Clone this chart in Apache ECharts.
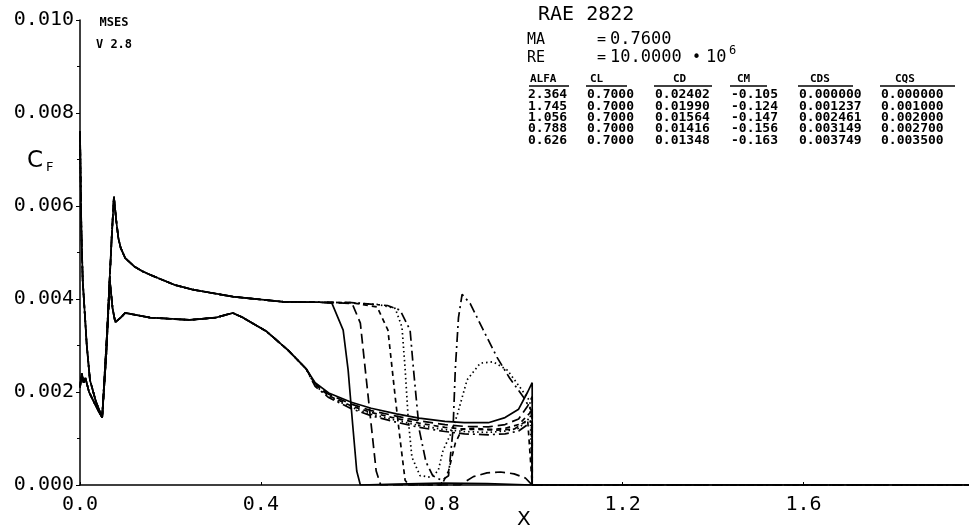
<!DOCTYPE html>
<html>
<head>
<meta charset="utf-8">
<script src="https://cdn.jsdelivr.net/npm/echarts@6/dist/echarts.min.js"></script>
<style>html,body{margin:0;padding:0;background:#fff}#c{width:969px;height:528px}</style>
</head>
<body>
<div id="c"></div>
<script>
// ---------- data ----------
const xTicks = [0.0, 0.4, 0.8, 1.2, 1.6];
const yTicks = [0.000, 0.002, 0.004, 0.006, 0.008, 0.010];

// upper surface, common forward part
const xUpperFore  = [0.000, 0.003, 0.006, 0.015, 0.022, 0.035, 0.049, 0.060, 0.070, 0.075, 0.080, 0.085, 0.090, 0.100, 0.120, 0.137, 0.155, 0.210, 0.250, 0.338, 0.450, 0.530];
const cfUpperFore = [0.0076, 0.0055, 0.0044, 0.0030, 0.00226, 0.0018, 0.00145, 0.0033, 0.0053, 0.0062, 0.0057, 0.0053, 0.0051, 0.00488, 0.0047, 0.0046, 0.00452, 0.0043, 0.0042, 0.00405, 0.00394, 0.00393];

// upper surface, aft part per case
const xUpperA  = [0.557, 0.582, 0.593, 0.603, 0.612, 0.620, 0.700, 0.800, 0.900, 1.000];
const cfUpperA = [0.00391, 0.00333, 0.00247, 0.0013, 0.0003, 0.0, 0.00002, 0.00004, 0.00003, 0.0];
const xUpperB  = [0.570, 0.602, 0.620, 0.631, 0.645, 0.655, 0.665, 0.840, 0.870, 0.900, 0.930, 0.960, 0.985, 1.000];
const cfUpperB = [0.00392, 0.00390, 0.00348, 0.00247, 0.0012, 0.0003, 0.0, 0.0, 0.00018, 0.00026, 0.00028, 0.00024, 0.00015, 0.0];
const xUpperC  = [0.600, 0.657, 0.681, 0.697, 0.708, 0.719, 0.727, 0.800, 0.815, 0.830, 0.845, 0.870, 0.920, 0.960, 0.990, 1.000];
const cfUpperC = [0.00392, 0.00383, 0.00333, 0.0019, 0.00097, 0.0001, 0.0, 0.0, 0.0003, 0.0009, 0.0012, 0.00122, 0.00118, 0.0012, 0.0014, 0.0];
const xUpperD  = [0.600, 0.660, 0.697, 0.712, 0.719, 0.726, 0.734, 0.752, 0.774, 0.792, 0.803, 0.820, 0.834, 0.856, 0.885, 0.914, 0.945, 0.973, 0.995, 1.000];
const cfUpperD = [0.00392, 0.00388, 0.0038, 0.0034, 0.0025, 0.0014, 0.0006, 0.0002, 0.00017, 0.0003, 0.00075, 0.0011, 0.0015, 0.00226, 0.00262, 0.00265, 0.00247, 0.0021, 0.0018, 0.0];
const xUpperE  = [0.600, 0.680, 0.708, 0.730, 0.737, 0.750, 0.765, 0.780, 0.800, 0.815, 0.825, 0.830, 0.837, 0.845, 0.863, 0.892, 0.922, 0.950, 0.980, 0.998, 1.000];
const cfUpperE = [0.00392, 0.00386, 0.00376, 0.00333, 0.00254, 0.0012, 0.0005, 0.0002, 0.0001, 0.0002, 0.0012, 0.0025, 0.0036, 0.0041, 0.0039, 0.00333, 0.00275, 0.0023, 0.0019, 0.0016, 0.0];

// lower surface, common forward part
const xLowerFore  = [0.000, 0.004, 0.008, 0.012, 0.020, 0.035, 0.049, 0.058, 0.066, 0.072, 0.078, 0.090, 0.100, 0.155, 0.243, 0.300, 0.338, 0.360, 0.413, 0.460, 0.500];
const cfLowerFore = [0.0021, 0.0024, 0.0022, 0.0023, 0.0020, 0.0017, 0.00145, 0.0028, 0.0044, 0.0038, 0.0035, 0.0036, 0.0037, 0.0036, 0.00355, 0.0036, 0.0037, 0.0036, 0.0033, 0.0029, 0.0025];

// lower surface, aft part per case
const xLowerAft = [0.520, 0.550, 0.600, 0.644, 0.700, 0.750, 0.807, 0.850, 0.903, 0.940, 0.970, 0.990, 1.000, 1.000];
const cfLowerA = [0.0022, 0.00198, 0.00178, 0.00165, 0.00153, 0.00144, 0.00137, 0.00134, 0.00134, 0.00145, 0.00163, 0.0020, 0.0022, 0.0];
const cfLowerB = [0.00218, 0.00195, 0.00174, 0.0016, 0.00148, 0.00138, 0.0013, 0.00126, 0.00125, 0.0013, 0.00142, 0.0017, 0.0019, 0.0];
const cfLowerC = [0.00216, 0.00192, 0.0017, 0.00156, 0.00143, 0.00133, 0.00124, 0.0012, 0.00119, 0.00122, 0.0013, 0.0015, 0.0016, 0.0];
const cfLowerD = [0.00214, 0.0019, 0.00167, 0.00152, 0.00139, 0.00128, 0.00119, 0.00115, 0.00113, 0.00116, 0.00122, 0.0014, 0.0015, 0.0];
const cfLowerE = [0.00212, 0.00188, 0.00164, 0.00149, 0.00135, 0.00124, 0.00115, 0.0011, 0.00108, 0.0011, 0.00116, 0.0013, 0.0014, 0.0];

// wake
const xWake  = [1.000, 1.966];
const cfWake = [0.0, 0.0];

// table
const tableHead = ['ALFA', 'CL', 'CD', 'CM', 'CDS', 'CQS'];
const colALFA = ['2.364', '1.745', '1.056', '0.788', '0.626'];
const colCL   = ['0.7000', '0.7000', '0.7000', '0.7000', '0.7000'];
const colCD   = ['0.02402', '0.01990', '0.01564', '0.01416', '0.01348'];
const colCM   = ['-0.105', '-0.124', '-0.147', '-0.156', '-0.163'];
const colCDS  = ['0.000000', '0.001237', '0.002461', '0.003149', '0.003749'];
const colCQS  = ['0.000000', '0.001000', '0.002000', '0.002700', '0.003500'];

// ---------- build ----------
function pairs(xs, ys) { return xs.map((x, i) => [x, ys[i]]); }
const upperAft = [[xUpperA, cfUpperA], [xUpperB, cfUpperB], [xUpperC, cfUpperC], [xUpperD, cfUpperD], [xUpperE, cfUpperE]];
const lowerAft = [cfLowerA, cfLowerB, cfLowerC, cfLowerD, cfLowerE];
const dashes = ['solid', [10, 5], [5, 4], [1.5, 3], [10, 4, 2, 4]];

const series = [];
for (let i = 0; i < 5; i++) {
  const ls = { color: '#000', width: 1.7, type: dashes[i] };
  series.push({ type: 'line', showSymbol: false, symbol: 'none', lineStyle: ls,
    data: pairs(xUpperFore, cfUpperFore).concat(pairs(upperAft[i][0], upperAft[i][1])) });
  series.push({ type: 'line', showSymbol: false, symbol: 'none', lineStyle: ls,
    data: pairs(xLowerFore, cfLowerFore).concat(pairs(xLowerAft, lowerAft[i])) });
  series.push({ type: 'line', showSymbol: false, symbol: 'none', lineStyle: ls,
    data: pairs(xWake, cfWake) });
}

const MONO = "'DejaVu Sans Mono', monospace";
const SANS = "'DejaVu Sans', sans-serif";
const graphics = [];
function txt(s, x, y, size, opts) {
  graphics.push({ type: 'text', x: x, y: y,
    style: { text: s, fill: '#000', font: (opts && opts.bold ? 'bold ' : '') + size + 'px ' + (opts && opts.fam || MONO),
      textVerticalAlign: 'middle', textAlign: (opts && opts.align) || 'left' } });
}
txt('MSES', 114, 23, 12, { bold: true, align: 'center' });
txt('V 2.8', 114, 45, 12, { bold: true, align: 'center' });
txt('C', 27, 161, 23, { fam: SANS });
txt('F', 46, 168, 13, { fam: SANS });
txt('X', 517, 520, 20, { fam: SANS });
txt('RAE 2822', 538, 15, 20, {});
txt('MA', 527, 40, 15, {});
txt('=', 597, 40, 15, {});
txt('0.7600', 610, 40, 17, {});
txt('RE', 527, 58, 15, {});
txt('=', 597, 58, 15, {});
txt('10.0000', 610, 58, 17, {});
txt('\u2022', 692, 58, 15, {});
txt('10', 706, 58, 17, {});
txt('6', 729, 51, 12, {});

const colX = [528, 587, 655, 731, 799, 881];
const headX = [530, 590, 673, 737, 810, 895];
const ulX = [[529, 569], [586, 627], [654, 712], [730, 767], [798, 853], [880, 955]];
const headY = 79, rowY0 = 95, rowDy = 11.3;
tableHead.forEach((h, j) => {
  txt(h, headX[j], headY, 11, { bold: true });
  graphics.push({ type: 'line', shape: { x1: ulX[j][0], y1: headY + 7, x2: ulX[j][1], y2: headY + 7 },
    style: { stroke: '#000', lineWidth: 1.3 } });
});
const cols = [colALFA, colCL, colCD, colCM, colCDS, colCQS];
cols.forEach((col, j) => col.forEach((v, r) => txt(v, colX[j], rowY0 + r * rowDy, 13, { bold: true })));

const chart = echarts.init(document.getElementById('c'), null, { renderer: 'canvas' });
chart.setOption({
  animation: false,
  backgroundColor: '#fff',
  grid: { left: 80, right: 0, top: 20, bottom: 43, containLabel: false },
  xAxis: {
    type: 'value', min: 0, max: 1.966, interval: 0.4,
    axisLine: { onZero: false, lineStyle: { color: '#000', width: 1.5 } },
    axisTick: { show: true, inside: true, length: 3, lineStyle: { color: '#000' } },
    splitLine: { show: false },
    axisLabel: { color: '#000', fontSize: 20, fontFamily: MONO, margin: 10,
      formatter: v => xTicks.some(t => Math.abs(t - v) < 1e-6) ? v.toFixed(1) : '',
      showMaxLabel: false }
  },
  yAxis: {
    type: 'value', min: 0, max: 0.010, interval: 0.002,
    axisLine: { show: true, lineStyle: { color: '#000', width: 1.5 } },
    axisTick: { show: true, length: 4, lineStyle: { color: '#000' } },
    minorTick: { show: true, splitNumber: 2, length: 3, lineStyle: { color: '#000' } },
    splitLine: { show: false },
    axisLabel: { color: '#000', fontSize: 20, fontFamily: MONO, margin: 6,
      formatter: v => yTicks.some(t => Math.abs(t - v) < 1e-9) ? v.toFixed(3) : '' }
  },
  series: series,
  graphic: graphics
});
</script>
</body>
</html>
